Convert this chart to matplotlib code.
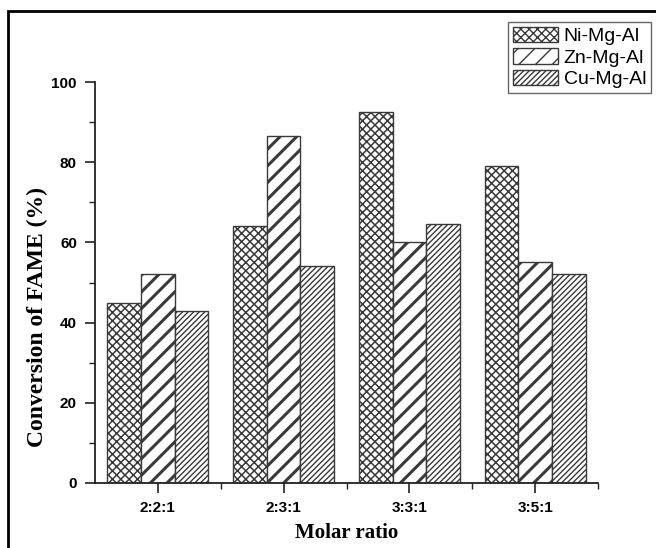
import matplotlib
matplotlib.use("Agg")
import matplotlib.pyplot as plt
import numpy as np
from matplotlib.patches import Rectangle
from matplotlib.ticker import MultipleLocator, FixedLocator

categories = ["2:2:1", "2:3:1", "3:3:1", "3:5:1"]
series_names = ["Ni-Mg-Al", "Zn-Mg-Al", "Cu-Mg-Al"]
ni_values = [45, 64, 92.5, 79]
zn_values = [52, 86.5, 60, 55]
cu_values = [43, 54, 64.5, 52]

hatches = ["xxxx", "//", "//////"]
hatch_lws = [1.1, 2.2, 1.0]

fig = plt.figure(figsize=(6.56, 5.48), dpi=100)
ax = fig.add_axes([95/656, 1-483/548, (598-95)/656, (483-82)/548])

x = np.arange(1, len(categories) + 1)
w = 0.268
edge = "#3a3a3a"
bars = []
for i, (vals, name) in enumerate(zip([ni_values, zn_values, cu_values], series_names)):
    bc = ax.bar(x + (i - 1) * w, vals, width=w, color="white", edgecolor=edge,
                linewidth=1.0, hatch=hatches[i], label=name)
    for p in bc:
        if hasattr(p, "set_hatch_linewidth"):
            p.set_hatch_linewidth(hatch_lws[i])
    bars.append(bc)

ax.set_xlim(0.5, 4.5)
ax.set_ylim(0, 100)
ax.xaxis.set_major_locator(FixedLocator(x))
ax.xaxis.set_minor_locator(FixedLocator([1.5, 2.5, 3.5, 4.5]))
ax.set_xticklabels(categories)
ax.yaxis.set_major_locator(MultipleLocator(20))
ax.yaxis.set_minor_locator(MultipleLocator(10))

for s in ["top", "right"]:
    ax.spines[s].set_visible(False)
for s in ["left", "bottom"]:
    ax.spines[s].set_linewidth(1.3)
    ax.spines[s].set_color("#222222")

ax.tick_params(axis="both", which="major", direction="out", length=7, width=1.2, color="#222222")
ax.tick_params(axis="both", which="minor", direction="out", length=4, width=1.0, color="#222222")
for lab in ax.get_xticklabels() + ax.get_yticklabels():
    lab.set_fontfamily("Liberation Sans")
    lab.set_fontweight("bold")
    lab.set_fontsize(11)
ax.tick_params(axis="y", pad=6)
ax.tick_params(axis="x", pad=6)

ax.set_xlabel("Molar ratio", fontfamily="Liberation Serif", fontweight="bold", fontsize=15, labelpad=6)
ax.set_ylabel("Conversion of FAME (%)", fontfamily="Liberation Serif", fontweight="bold", fontsize=17)
ax.yaxis.set_label_coords((48-95)/503, 1-(317-82)/401)

leg = fig.legend(handles=bars, labels=series_names, loc="upper right",
                 bbox_to_anchor=(651/656, 1-22/548), bbox_transform=fig.transFigure,
                 prop={"family": "Liberation Sans", "size": 14},
                 frameon=True, fancybox=False, framealpha=1, edgecolor="#666666",
                 handlelength=2.3, handleheight=0.85, handletextpad=0.3,
                 labelspacing=0.15, borderpad=0.25, borderaxespad=0)
leg.get_frame().set_linewidth(1.0)

# outer frame of the image
fig.patches.append(Rectangle((8/656, -0.05), 1.1, 1-11/548+0.05, transform=fig.transFigure,
                             fill=False, edgecolor="black", linewidth=2.0))

fig.savefig("out.png", dpi=100)
